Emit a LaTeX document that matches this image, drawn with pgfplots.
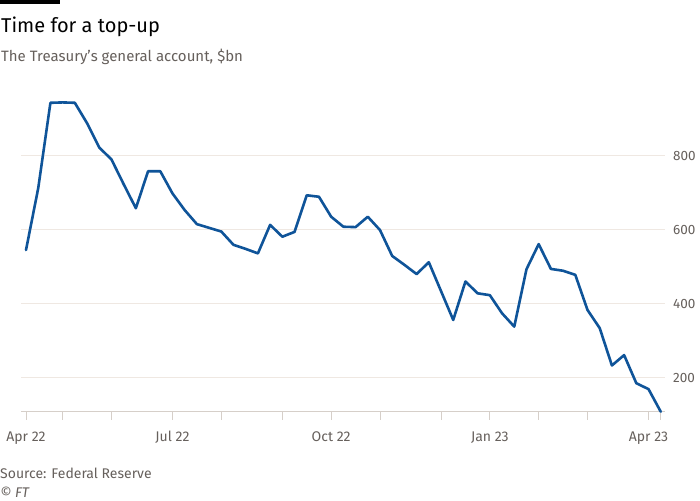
\documentclass[border=0pt]{standalone}
\usepackage{pgfplots}
\pgfplotsset{compat=1.18}
\usepackage{fontspec}
\setmainfont{Fira Sans}
\definecolor{ftblue}{HTML}{0F5499}
\definecolor{ftgrid}{HTML}{EFE8E2}
\definecolor{ftaxis}{HTML}{D6CFC9}
\definecolor{fttext}{HTML}{66605C}
\pgfplotstableread{
x y
0 545
1 712
2 943
3 944
4 943
5 888
6 822
7 790
8 723
9 658
10 758
11 758
12 698
13 653
14 615
15 605
16 595
17 559
18 548
19 536
20 613
21 581
22 594
23 693
24 689
25 635
26 608
27 607
28 635
29 599
30 529
31 505
32 480
33 512
34 434
35 356
36 460
37 428
38 423
39 374
40 338
41 493
42 561
43 494
44 489
45 478
46 383
47 334
48 233
49 261
50 185
51 169
52 108
}\tga
\begin{document}
\begin{tikzpicture}
\path[use as bounding box, fill=white] (0,0) rectangle (700pt,-500pt);
\fill[black] (0,0) rectangle (60pt,-4pt);
\node[anchor=base west, inner sep=0, font=\fontsize{20}{24}\selectfont] at (1pt,-32.3pt) {Time for a top-up};
\node[anchor=base west, inner sep=0, text=fttext, font=\fontsize{15}{18}\selectfont] at (1pt,-61.5pt) {The Treasury's general account, \$bn};
\begin{axis}[at={(21pt,-411.7pt)}, anchor=south west, scale only axis,
  width=644pt, height=315.2pt,
  xmin=-0.41, xmax=52.35, ymin=108, ymax=960,
  clip=false,
  axis x line*=bottom, axis y line*=right,
  x axis line style={-, draw=ftaxis, line width=1pt},
  y axis line style={draw=none},
  xtick={0,3,7,12,16,21,25,29,34,38,42,46,51,52},
  xticklabels={Apr 22,,,Jul 22,,,Oct 22,,,Jan 23,,,Apr 23,},
  xtick style={draw=ftaxis, line width=0.8pt},
  tick align=outside, major tick length=8pt,
  ytick={200,400,600,800},
  ytick style={draw=none},
  ymajorgrids, grid style={draw=ftgrid, line width=1pt},
  yticklabel pos=right,
  /pgf/number format/assume math mode=true,
  ticklabel style={font=\fontsize{14}{16}\selectfont, text=fttext},
  yticklabel style={anchor=west, inner sep=0pt, xshift=0pt, font=\fontsize{13.5}{16}\selectfont},
  xticklabel style={anchor=base, inner sep=0pt, yshift=-22pt},
]
\addplot[ftblue, line width=2.6pt, line join=round, line cap=round] table[x=x,y=y] {\tga};
\end{axis}
\node[anchor=base west, inner sep=0, text=fttext, font=\fontsize{14}{16}\selectfont] at (0pt,-478.5pt) {Source: Federal Reserve};
\node[anchor=base west, inner sep=0, text=fttext, font=\fontsize{14}{16}\selectfont\itshape] at (0pt,-497pt) {© FT};
\end{tikzpicture}
\end{document}
